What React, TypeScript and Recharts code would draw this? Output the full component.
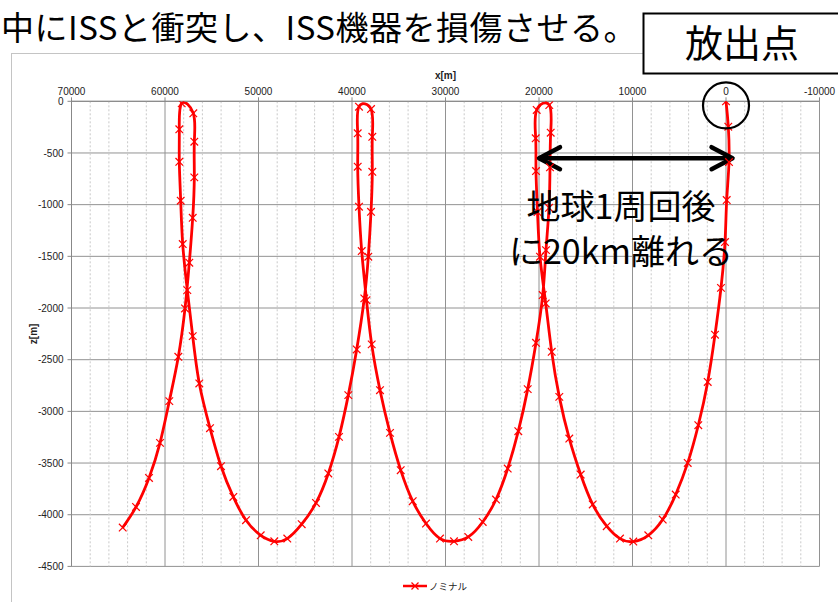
import React from 'react';
import { ComposedChart, Line, XAxis, YAxis, CartesianGrid, ReferenceLine, ReferenceDot } from 'recharts';

// relative position samples (x [m], z [m])
const xs = [
  0, -246, -321, -75, 107, 535, 1176, 1957, 2963, 4096,
  5380, 6770, 8310, 9914, 11337, 12759, 14256, 15540, 16759, 17828,
  18641, 19283, 19893, 20160, 20321, 20353, 20246, 18898, 18749, 18823,
  18930, 19251, 19604, 20321, 21208, 22214, 23347, 24599, 26021, 27561,
  29090, 30588, 32085, 33508, 34791, 35935, 37005, 37893, 38449, 38962,
  39251, 39390, 39390, 39251, 37967, 37828, 37828, 37967, 38256, 38684,
  39497, 40395, 41390, 42535, 43850, 45380, 46920, 48310, 49764, 51336,
  52694, 54010, 55186, 56331, 57036, 57614, 58106, 58320, 58470, 58470,
  58213, 56972, 56865, 56865, 57036, 57400, 57860, 58576, 59539, 60534,
  61710, 63100, 64523,
];
const zs = [
  0, -246, -588, -955, -1362, -1805, -2258, -2715, -3134, -3499,
  -3805, -4047, -4199, -4260, -4231, -4111, -3901, -3611, -3263, -2860,
  -2424, -1956, -1504, -1072, -675, -358, -84, -36, -304, -639,
  -1030, -1440, -1875, -2337, -2785, -3192, -3553, -3853, -4070, -4215,
  -4257, -4231, -4085, -3869, -3569, -3208, -2795, -2352, -1924, -1449,
  -1020, -633, -310, -52, -75, -343, -682, -1069, -1504, -1907,
  -2401, -2843, -3247, -3601, -3886, -4092, -4231, -4257, -4199, -4053,
  -3828, -3531, -3163, -2730, -2272, -1827, -1381, -962, -585, -271,
  -19, -116, -391, -736, -1127, -1562, -2004, -2472, -2901, -3305,
  -3644, -3925, -4124,
];

const xTicks = [70000, 60000, 50000, 40000, 30000, 20000, 10000, 0, -10000];
const xMinorTicks = [
  68000, 66000, 64000, 62000, 58000, 56000, 54000, 52000, 48000, 46000, 44000, 42000,
  38000, 36000, 34000, 32000, 28000, 26000, 24000, 22000, 18000, 16000, 14000, 12000,
  8000, 6000, 4000, 2000, -2000, -4000, -6000, -8000,
];
const yTicks = [0, -500, -1000, -1500, -2000, -2500, -3000, -3500, -4000, -4500];

const seriesName = 'ノミナル';
const titleText = '中にISSと衝突し、ISS機器を損傷させる。';
const boxText = '放出点';
const noteLine1 = '地球1周回後';
const noteLine2 = 'に20km離れる';
const arrowSpan = [20000, -700];
const arrowZ = -550;

const data = xs.map((x, i) => ({ x, z: zs[i] }));

const RED = '#ff0000';
const JP = '"Noto Sans CJK JP", "Noto Sans", sans-serif';
const LAT = '"Liberation Sans", Arial, sans-serif';

const XMark = (props: any) => {
  const { cx, cy, index } = props;
  if (cx == null || cy == null) return <g key={`m-${index}`} />;
  const s = 3.8;
  return (
    <g key={`m-${index}`} stroke={RED} strokeWidth={1.2}>
      <line x1={cx - s} y1={cy - s} x2={cx + s} y2={cy + s} />
      <line x1={cx - s} y1={cy + s} x2={cx + s} y2={cy - s} />
    </g>
  );
};

const ArrowShape = (props: any) => {
  const { x1, y1, x2, y2 } = props;
  const hl = 21;
  const hw = 11;
  return (
    <g stroke="#000" strokeWidth={4.5} fill="none" strokeLinecap="round" strokeLinejoin="round">
      <line x1={x1 + 2} y1={y1} x2={x2 - 2} y2={y2} />
      <polyline points={`${x1 + hl},${y1 - hw} ${x1},${y1} ${x1 + hl},${y1 + hw}`} />
      <polyline points={`${x2 - hl},${y2 - hw} ${x2},${y2} ${x2 - hl},${y2 + hw}`} />
    </g>
  );
};

export default function App() {
  return (
    <div style={{ position: 'absolute', left: 0, top: 0, width: 838, height: 602, overflow: 'hidden', background: '#fff' }}>
      {/* chart frame */}
      <div style={{ position: 'absolute', left: 11, top: 53, width: 900, height: 700, border: '1.5px solid #c4c4c4', boxSizing: 'border-box' }} />
      <div style={{ position: 'absolute', left: 0, top: 0 }}>
        <ComposedChart width={838} height={602} data={data} margin={{ top: 83.3, right: 18.5, bottom: 35.6, left: 12 }}>
          <CartesianGrid stroke="#929292" strokeWidth={1} />
          {xMinorTicks.map((v) => (
            <ReferenceLine key={`mn-${v}`} x={v} stroke="#c9c9c9" strokeDasharray="2 2" strokeWidth={1} />
          ))}
          <XAxis
            type="number"
            dataKey="x"
            domain={[-10000, 70000]}
            ticks={xTicks}
            interval={0}
            reversed
            allowDataOverflow
            orientation="top"
            height={18}
            axisLine={{ stroke: '#888' }}
            tickLine={{ stroke: '#888' }}
            tickSize={4}
            tickMargin={2}
            tick={{ fontSize: 10, fill: '#222', fontFamily: LAT }}
            label={{ value: 'x[m]', position: 'top', offset: 4, style: { fontSize: 10, fontWeight: 'bold', fill: '#222', fontFamily: LAT } }}
          />
          <YAxis
            type="number"
            domain={[-4500, 0]}
            ticks={yTicks}
            interval={0}
            allowDataOverflow
            width={59.5}
            axisLine={{ stroke: '#888' }}
            tickLine={{ stroke: '#888' }}
            tickSize={4}
            tickMargin={4}
            tick={{ fontSize: 10, fill: '#222', fontFamily: LAT }}
            label={{ value: 'z[m]', angle: -90, position: 'insideLeft', offset: 21, style: { textAnchor: 'middle', fontSize: 10, fontWeight: 'bold', fill: '#222', fontFamily: LAT } }}
          />
          <Line
            type="natural"
            dataKey="z"
            name={seriesName}
            stroke={RED}
            strokeWidth={2.8}
            dot={XMark}
            activeDot={false}
            isAnimationActive={false}
          />
          <ReferenceDot x={0} y={-40} r={23} fill="none" stroke="#000" strokeWidth={2.2} />
          <ReferenceLine
            segment={[{ x: arrowSpan[0], y: arrowZ }, { x: arrowSpan[1], y: arrowZ }]}
            shape={ArrowShape}
          />
        </ComposedChart>
      </div>
      <svg width={838} height={602} style={{ position: 'absolute', left: 0, top: 0, pointerEvents: 'none' }}>
        <text x={1} y={39.5} fontSize={33} letterSpacing={0.5} fontFamily={JP} fill="#000">{titleText}</text>
        <rect x={643.5} y={13.5} width={210} height={60} fill="#fff" stroke="#000" strokeWidth={2} />
        <text x={742} y={57} fontSize={38} fontFamily={JP} fill="#000" textAnchor="middle">{boxText}</text>
        <text x={621} y={219} fontSize={34} fontFamily={JP} fill="#000" textAnchor="middle">{noteLine1}</text>
        <text x={621} y={264} fontSize={34} fontFamily={JP} fill="#000" textAnchor="middle">{noteLine2}</text>
        {/* legend */}
        <line x1={403} y1={586} x2={427} y2={586} stroke={RED} strokeWidth={2.5} />
        <g stroke={RED} strokeWidth={1.2}>
          <line x1={411.5} y1={582.5} x2={418.5} y2={589.5} />
          <line x1={411.5} y1={589.5} x2={418.5} y2={582.5} />
        </g>
        <text x={429} y={589.5} fontSize={9.5} fontFamily={JP} fill="#222">{seriesName}</text>
      </svg>
    </div>
  );
}
